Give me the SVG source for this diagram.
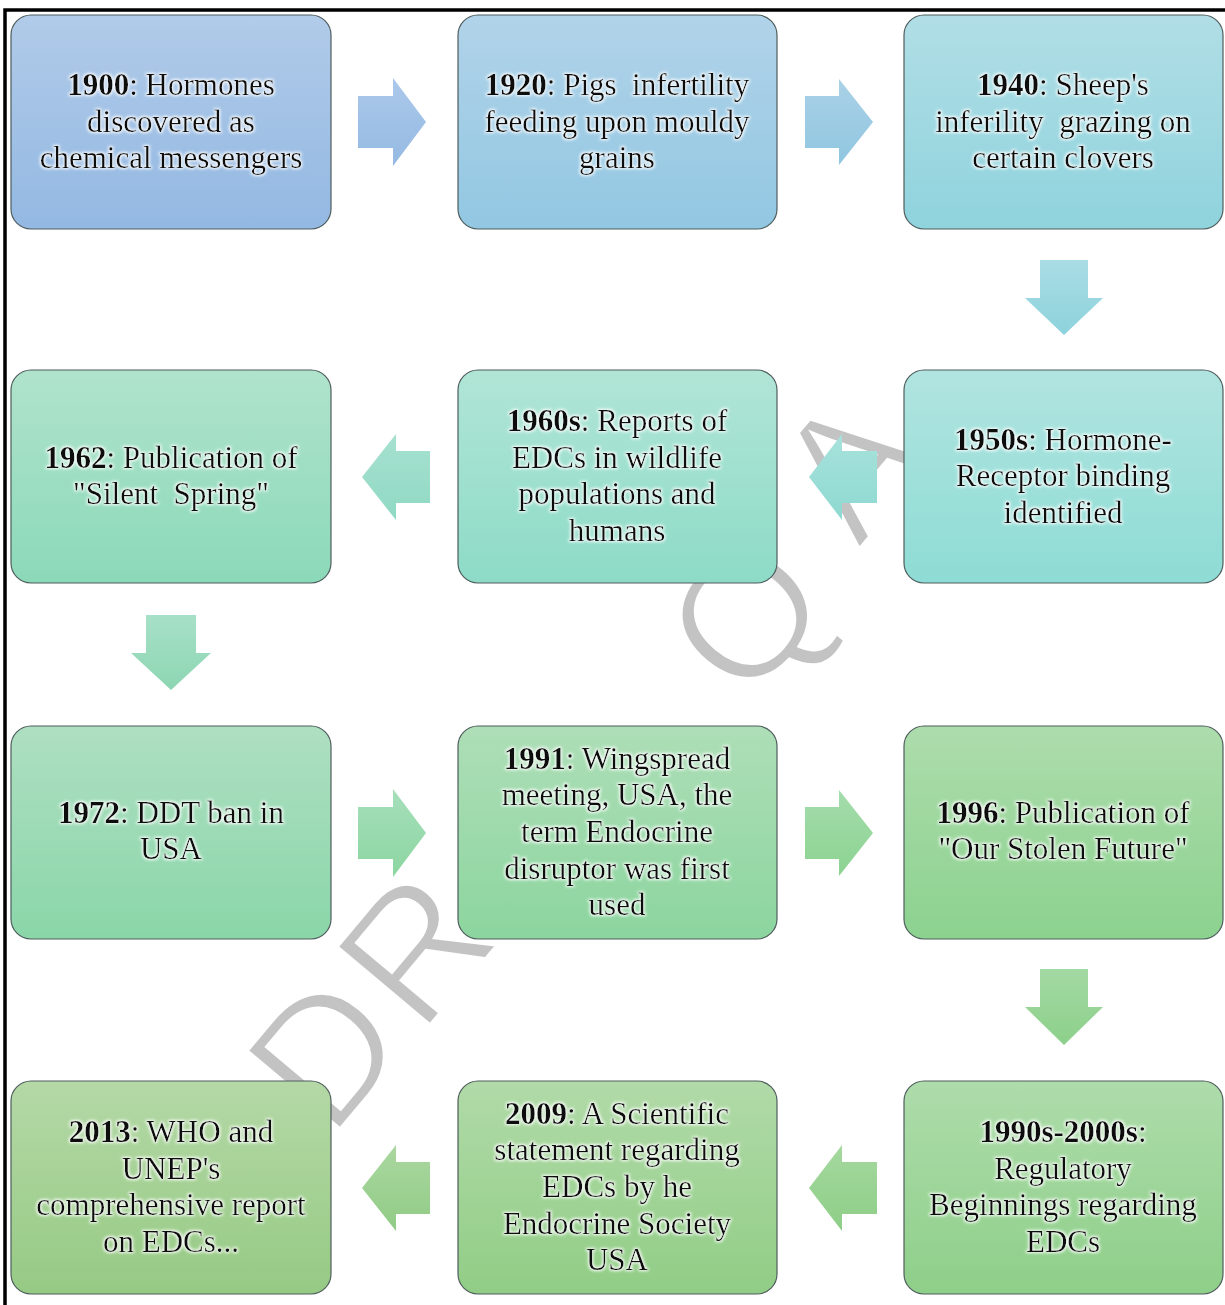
<svg xmlns="http://www.w3.org/2000/svg" width="1225" height="1305" viewBox="0 0 1225 1305">
<style>
.box{stroke:#4f5d5d;stroke-width:1.2}
.t{font-family:"Liberation Serif","Times New Roman",serif;font-size:31px;fill:#111;text-anchor:middle;filter:url(#glow)}
.b{font-weight:bold}
.wm{font-family:"Liberation Sans",Arial,sans-serif;font-size:178px;fill:#c3c3c3;stroke:#ffffff;stroke-width:4;text-anchor:middle;dominant-baseline:central}
</style>
<defs>
<filter id="glow" x="-10%" y="-30%" width="120%" height="160%">
<feMorphology in="SourceAlpha" operator="dilate" radius="1.2" result="d"/>
<feGaussianBlur in="d" stdDeviation="1.8" result="bl"/>
<feFlood flood-color="#ffffff" flood-opacity="0.95"/>
<feComposite in2="bl" operator="in" result="g"/>
<feMerge><feMergeNode in="g"/><feMergeNode in="SourceGraphic"/></feMerge>
</filter>
<linearGradient id="g1" x1="0" y1="0" x2="0" y2="1"><stop offset="0" stop-color="#b1cbe9"/><stop offset="1" stop-color="#93b8e2"/></linearGradient>
<linearGradient id="g2" x1="0" y1="0" x2="0" y2="1"><stop offset="0" stop-color="#b1d3e9"/><stop offset="1" stop-color="#92c7e2"/></linearGradient>
<linearGradient id="g3" x1="0" y1="0" x2="0" y2="1"><stop offset="0" stop-color="#b1dee6"/><stop offset="1" stop-color="#8fd3dd"/></linearGradient>
<linearGradient id="g4" x1="0" y1="0" x2="0" y2="1"><stop offset="0" stop-color="#b1e4e0"/><stop offset="1" stop-color="#8edcd5"/></linearGradient>
<linearGradient id="g5" x1="0" y1="0" x2="0" y2="1"><stop offset="0" stop-color="#b1e5d6"/><stop offset="1" stop-color="#8ddbc7"/></linearGradient>
<linearGradient id="g6" x1="0" y1="0" x2="0" y2="1"><stop offset="0" stop-color="#b0e3cc"/><stop offset="1" stop-color="#8bd9b9"/></linearGradient>
<linearGradient id="g7" x1="0" y1="0" x2="0" y2="1"><stop offset="0" stop-color="#aedfc1"/><stop offset="1" stop-color="#8ad6a9"/></linearGradient>
<linearGradient id="g8" x1="0" y1="0" x2="0" y2="1"><stop offset="0" stop-color="#aedeb7"/><stop offset="1" stop-color="#8cd59f"/></linearGradient>
<linearGradient id="g9" x1="0" y1="0" x2="0" y2="1"><stop offset="0" stop-color="#addcac"/><stop offset="1" stop-color="#8cd28f"/></linearGradient>
<linearGradient id="g10" x1="0" y1="0" x2="0" y2="1"><stop offset="0" stop-color="#aedcab"/><stop offset="1" stop-color="#8ecf89"/></linearGradient>
<linearGradient id="g11" x1="0" y1="0" x2="0" y2="1"><stop offset="0" stop-color="#b1daa8"/><stop offset="1" stop-color="#91cd86"/></linearGradient>
<linearGradient id="g12" x1="0" y1="0" x2="0" y2="1"><stop offset="0" stop-color="#b4d8a6"/><stop offset="1" stop-color="#96ca84"/></linearGradient>
<linearGradient id="a1" x1="0" y1="0" x2="0" y2="1"><stop offset="0" stop-color="#abc8ea"/><stop offset="1" stop-color="#95bae3"/></linearGradient>
<linearGradient id="a2" x1="0" y1="0" x2="0" y2="1"><stop offset="0" stop-color="#aad1e7"/><stop offset="1" stop-color="#90c6e0"/></linearGradient>
<linearGradient id="a3" x1="0" y1="0" x2="0" y2="1"><stop offset="0" stop-color="#aadce4"/><stop offset="1" stop-color="#8dd3dc"/></linearGradient>
<linearGradient id="a4" x1="0" y1="0" x2="0" y2="1"><stop offset="0" stop-color="#a8e2dc"/><stop offset="1" stop-color="#8dd9d1"/></linearGradient>
<linearGradient id="a5" x1="0" y1="0" x2="0" y2="1"><stop offset="0" stop-color="#a7e1d0"/><stop offset="1" stop-color="#8fd9c3"/></linearGradient>
<linearGradient id="a6" x1="0" y1="0" x2="0" y2="1"><stop offset="0" stop-color="#a7e0c8"/><stop offset="1" stop-color="#8dd6b2"/></linearGradient>
<linearGradient id="a7" x1="0" y1="0" x2="0" y2="1"><stop offset="0" stop-color="#a6dfbb"/><stop offset="1" stop-color="#8cd6a1"/></linearGradient>
<linearGradient id="a8" x1="0" y1="0" x2="0" y2="1"><stop offset="0" stop-color="#a4dcac"/><stop offset="1" stop-color="#8cd391"/></linearGradient>
<linearGradient id="a9" x1="0" y1="0" x2="0" y2="1"><stop offset="0" stop-color="#a3d9a3"/><stop offset="1" stop-color="#8cd08a"/></linearGradient>
<linearGradient id="a10" x1="0" y1="0" x2="0" y2="1"><stop offset="0" stop-color="#a5d89f"/><stop offset="1" stop-color="#8dce87"/></linearGradient>
<linearGradient id="a11" x1="0" y1="0" x2="0" y2="1"><stop offset="0" stop-color="#aad7a0"/><stop offset="1" stop-color="#91cb86"/></linearGradient>
</defs>

<rect x="0" y="0" width="1225" height="1305" fill="#ffffff"/>

<g id="watermark">
<text class="wm" transform="translate(325,1052) rotate(-50)">D</text>
<text class="wm" transform="translate(415,948) rotate(-50)">R</text>
<text class="wm" transform="translate(528,832) rotate(-50)">S</text>
<text class="wm" transform="translate(745,615) rotate(-50)">Q</text>
<text class="wm" transform="translate(850,465) rotate(-50)">A</text>
</g>

<g id="connectors">
<path d="M358,96 H393 V78 L426,122 L393,166 V148 H358 Z" fill="url(#a1)"/>
<path d="M805,96 H839 V79 L873,122 L839,165 V148 H805 Z" fill="url(#a2)"/>
<path d="M1040,260 H1088 V298 H1103 L1064,335 L1025,298 H1040 Z" fill="url(#a3)"/>
<path d="M877,451 V503 H842 V520 L809,477 L842,434 V451 Z" fill="url(#a4)"/>
<path d="M430,451 V503 H396 V520 L362,477 L396,434 V451 Z" fill="url(#a5)"/>
<path d="M146,615 H196 V653 H211 L171,690 L131,653 H146 Z" fill="url(#a6)"/>
<path d="M358,807 H393 V789 L426,833 L393,877 V859 H358 Z" fill="url(#a7)"/>
<path d="M805,807 H839 V790 L873,833 L839,876 V859 H805 Z" fill="url(#a8)"/>
<path d="M1040,969 H1088 V1007 H1103 L1064,1045 L1025,1007 H1040 Z" fill="url(#a9)"/>
<path d="M877,1162 V1214 H842 V1231 L809,1188 L842,1145 V1162 Z" fill="url(#a10)"/>
<path d="M430,1162 V1214 H396 V1231 L362,1188 L396,1145 V1162 Z" fill="url(#a11)"/>
</g>

<g id="n1900">
<rect class="box" x="11" y="15" width="320" height="214" rx="20" fill="url(#g1)"/>
<text class="t"><tspan x="171" y="95"><tspan class="b">1900</tspan>: Hormones</tspan><tspan x="171" y="132">discovered as</tspan><tspan x="171" y="168">chemical messengers</tspan></text>
</g>
<g id="n1920">
<rect class="box" x="458" y="15" width="319" height="214" rx="20" fill="url(#g2)"/>
<text class="t" xml:space="preserve"><tspan x="617" y="95"><tspan class="b">1920</tspan>: Pigs  infertility</tspan><tspan x="617" y="132">feeding upon mouldy</tspan><tspan x="617" y="168">grains</tspan></text>
</g>
<g id="n1940">
<rect class="box" x="904" y="15" width="319" height="214" rx="20" fill="url(#g3)"/>
<text class="t" xml:space="preserve"><tspan x="1063" y="95"><tspan class="b">1940</tspan>: Sheep's</tspan><tspan x="1063" y="132">inferility  grazing on</tspan><tspan x="1063" y="168">certain clovers</tspan></text>
</g>
<g id="n1950s">
<rect class="box" x="904" y="370" width="319" height="213" rx="20" fill="url(#g4)"/>
<text class="t"><tspan x="1063" y="450"><tspan class="b">1950s</tspan>: Hormone-</tspan><tspan x="1063" y="486">Receptor binding</tspan><tspan x="1063" y="523">identified</tspan></text>
</g>
<g id="n1960s">
<rect class="box" x="458" y="370" width="319" height="213" rx="20" fill="url(#g5)"/>
<text class="t"><tspan x="617" y="431"><tspan class="b">1960s</tspan>: Reports of</tspan><tspan x="617" y="468">EDCs in wildlife</tspan><tspan x="617" y="504">populations and</tspan><tspan x="617" y="541">humans</tspan></text>
</g>
<g id="n1962">
<rect class="box" x="11" y="370" width="320" height="213" rx="20" fill="url(#g6)"/>
<text class="t" xml:space="preserve"><tspan x="171" y="468"><tspan class="b">1962</tspan>: Publication of</tspan><tspan x="171" y="504">"Silent  Spring"</tspan></text>
</g>
<g id="n1972">
<rect class="box" x="11" y="726" width="320" height="213" rx="20" fill="url(#g7)"/>
<text class="t"><tspan x="171" y="823"><tspan class="b">1972</tspan>: DDT ban in</tspan><tspan x="171" y="859">USA</tspan></text>
</g>
<g id="n1991">
<rect class="box" x="458" y="726" width="319" height="213" rx="20" fill="url(#g8)"/>
<text class="t"><tspan x="617" y="769"><tspan class="b">1991</tspan>: Wingspread</tspan><tspan x="617" y="805">meeting, USA, the</tspan><tspan x="617" y="842">term Endocrine</tspan><tspan x="617" y="879">disruptor was first</tspan><tspan x="617" y="915">used</tspan></text>
</g>
<g id="n1996">
<rect class="box" x="904" y="726" width="319" height="213" rx="20" fill="url(#g9)"/>
<text class="t"><tspan x="1063" y="823"><tspan class="b">1996</tspan>: Publication of</tspan><tspan x="1063" y="859">"Our Stolen Future"</tspan></text>
</g>
<g id="n1990s">
<rect class="box" x="904" y="1081" width="319" height="213" rx="20" fill="url(#g10)"/>
<text class="t"><tspan x="1063" y="1142"><tspan class="b">1990s-2000s</tspan>:</tspan><tspan x="1063" y="1179">Regulatory</tspan><tspan x="1063" y="1215">Beginnings regarding</tspan><tspan x="1063" y="1252">EDCs</tspan></text>
</g>
<g id="n2009">
<rect class="box" x="458" y="1081" width="319" height="213" rx="20" fill="url(#g11)"/>
<text class="t"><tspan x="617" y="1124"><tspan class="b">2009</tspan>: A Scientific</tspan><tspan x="617" y="1160">statement regarding</tspan><tspan x="617" y="1197">EDCs by he</tspan><tspan x="617" y="1234">Endocrine Society</tspan><tspan x="617" y="1270">USA</tspan></text>
</g>
<g id="n2013">
<rect class="box" x="11" y="1081" width="320" height="213" rx="20" fill="url(#g12)"/>
<text class="t"><tspan x="171" y="1142"><tspan class="b">2013</tspan>: WHO and</tspan><tspan x="171" y="1179">UNEP's</tspan><tspan x="171" y="1215">comprehensive report</tspan><tspan x="171" y="1252">on EDCs...</tspan></text>
</g>

<rect x="5" y="10" width="1240" height="1320" fill="none" stroke="#000" stroke-width="3.5"/>
</svg>
